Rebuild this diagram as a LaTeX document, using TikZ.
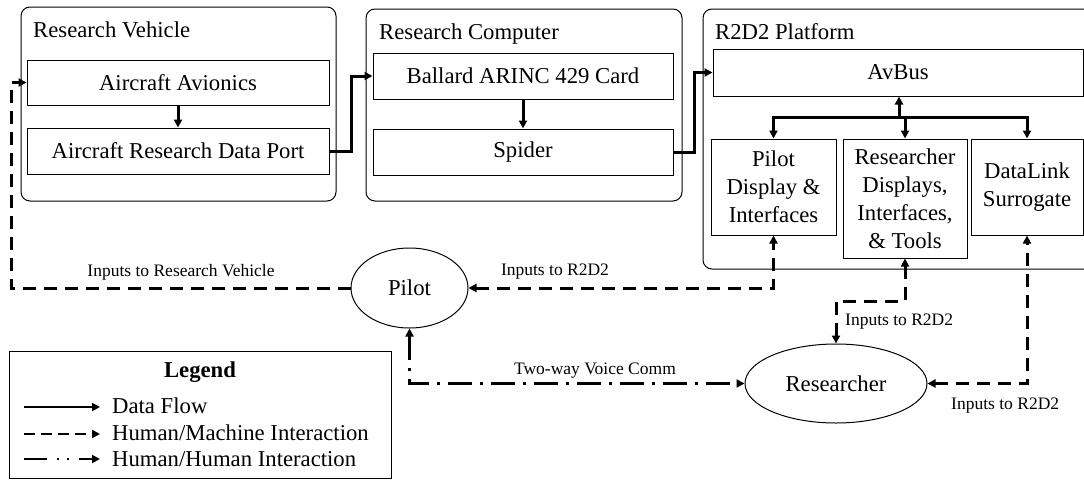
\documentclass[tikz,border=0pt]{standalone}
\usepackage{fontspec}
\setmainfont{Liberation Serif}
\usetikzlibrary{arrows.meta,shapes.geometric,calc}
\tikzset{
  big/.style={font=\fontsize{22.7}{28}\selectfont},
  small/.style={font=\fontsize{17.5}{21}\selectfont},
  group/.style={draw, line width=1pt, rounded corners=9pt, inner sep=0pt},
  blk/.style={draw, line width=1pt, inner sep=0pt, big, align=center},
  human/.style={draw, ellipse, line width=1pt, inner sep=0pt, big},
  title/.style={anchor=base west, inner sep=0pt, big},
  lbl/.style={inner sep=0pt, small},
  data/.style={line width=3pt},
  hm/.style={line width=3pt, dash pattern=on 13pt off 8pt},
  hh/.style={line width=3pt, dash pattern=on 24pt off 8pt on 3pt off 8pt},
  legdata/.style={line width=2.5pt},
  leghm/.style={line width=2.5pt, dash pattern=on 11pt off 6pt},
  leghh/.style={line width=2.5pt, dash pattern=on 23pt off 10pt on 2pt off 8pt on 2pt off 10pt},
}
\begin{document}
\begin{tikzpicture}[x=1pt,y=-1pt,>={Triangle[length=8pt,width=8pt]}]
\useasboundingbox (0,0) rectangle (1084,480);
\clip (0,0) rectangle (1084,480);
\fill[white] (0,0) rectangle (1084,480);

% group boxes
\node[group, minimum width=315pt, minimum height=194pt] (rv) at (178.5,104) {};
\node[title] (rvt) at (33,37.5) {Research Vehicle};
\node[group, minimum width=316pt, minimum height=192pt] (rc) at (524,105) {};
\node[title] (rct) at (379,39.5) {Research Computer};
\node[group, minimum width=397pt, minimum height=260pt] (r2) at (901.5,139) {};
\node[title] (r2t) at (715,39.5) {R2D2 Platform};

% blocks
\node[blk, minimum width=302pt, minimum height=45pt] (av) at (178,82.5) {Aircraft Avionics};
\node[blk, minimum width=302pt, minimum height=46pt] (dp) at (178,151) {Aircraft Research Data Port};
\node[blk, minimum width=300pt, minimum height=46pt] (bc) at (523,76) {Ballard ARINC 429 Card};
\node[blk, minimum width=300pt, minimum height=46pt] (sp) at (523,152) {Spider};
\node[blk, minimum width=370pt, minimum height=47pt] (ab) at (898,72.5) {AvBus};
\node[blk, minimum width=125pt, minimum height=96pt] (pd) at (773.5,187) {Pilot\\Display \&\\Interfaces};
\node[blk, minimum width=124pt, minimum height=119pt] (rd) at (905,198.5) {Researcher\\Displays,\\Interfaces,\\\& Tools};
\node[blk, minimum width=112pt, minimum height=96pt] (dl) at (1027,187) {DataLink\\Surrogate};

% humans
\node[human, minimum width=117pt, minimum height=80pt] (pilot) at (409.5,288) {Pilot};
\node[human, minimum width=182pt, minimum height=79pt] (res) at (836,383.5) {Researcher};

% data flow
\draw[data,->] (av.south) -- (dp.north);
\draw[data,->] (bc.south) -- (sp.north);
\draw[data,->] (dp.east) -- ++(21.5,0) |- (bc.west);
\draw[data,->] (sp.east) -- ++(21,0) |- (ab.west);
\coordinate (bus) at (899,117);
\draw[data,->] (bus) -- (bus |- ab.south);
\draw[data,->] (bus) -| (pd.north);
\draw[data,->] (bus) -| (rd.north);
\draw[data,->] (bus) -| (dl.north);

% human / machine
\coordinate (rvk) at (11,288);
\draw[hm,->] (pilot.west) -- (rvk) |- (av.west);
\draw[hm,<->] (pilot.east) -| (pd.south);
\coordinate (rdk) at (905,301);
\draw[hm,<->] (res.north) |- (rdk) -- (rd.south);
\draw[hm,<->] (res.east) -| (dl.south);

% human / human
\draw[hh,<->] (pilot.south) |- (res.west);

% labels
\node[lbl, anchor=base] (l1) at (181,276) {Inputs to Research Vehicle};
\node[lbl, anchor=base] (l2) at (555,275.5) {Inputs to R2D2};
\node[lbl, anchor=base west] (l3) at (845,325) {Inputs to R2D2};
\node[lbl, anchor=base west] (l4) at (951,409) {Inputs to R2D2};
\node[lbl, anchor=base] (l5) at (595,374) {Two-way Voice Comm};

% legend
\node[draw, line width=1pt, minimum width=382pt, minimum height=127pt, inner sep=0pt] (leg) at (200,414.5) {};
\node[big, anchor=base, inner sep=0pt, font=\fontsize{22.7}{28}\selectfont\bfseries] (legt) at (200,377) {Legend};
\coordinate (la1) at (24,407); \coordinate (lb1) at (100,407);
\coordinate (la2) at (24,434); \coordinate (lb2) at (100,434);
\coordinate (la3) at (24,459); \coordinate (lb3) at (100,459);
\draw[legdata,->] (la1) -- (lb1);
\draw[leghm,->] (la2) -- (lb2);
\draw[leghh,->] (la3) -- (lb3);
\node[title] (lt1) at (112,413) {Data Flow};
\node[title] (lt2) at (112,440) {Human/Machine Interaction};
\node[title] (lt3) at (112,466) {Human/Human Interaction};
\end{tikzpicture}
\end{document}
